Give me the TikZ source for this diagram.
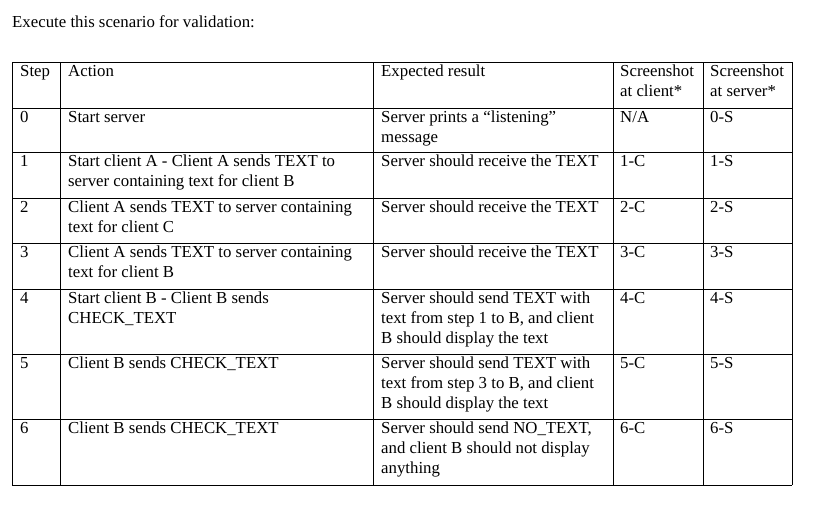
\documentclass[tikz,border=0pt]{standalone}
\usepackage{fontspec}
\setmainfont{Liberation Serif}
\begin{document}
\begin{tikzpicture}[x=1pt,y=-1pt,
  cell/.style={anchor=north west,inner sep=0pt,align=left,font=\fontsize{16.8}{20}\selectfont},
  grid/.style={draw=black,line width=0.7pt}]
\useasboundingbox (0,0) rectangle (821,507);
\node[cell,anchor=west] (title) at (12,22) {Execute this scenario for validation:};
\foreach \x in {12,60,373,613,703,792} \draw[grid] (\x,62) -- (\x,485);
\foreach \y in {62,108,152,198,243,289,354,419,485} \draw[grid] (12,\y) -- (792,\y);
% header
\node[cell] (h1) at (20,65) {Step};
\node[cell] (h2) at (68,65) {Action};
\node[cell] (h3) at (381,65) {Expected result};
\node[cell] (h4) at (620,65) {Screenshot\\at client*};
\node[cell] (h5) at (710,65) {Screenshot\\at server*};
% rows
\foreach \n/\y/\a/\b/\c/\d in {
 0/111/{Start server}/{Server prints a “listening”\\message}/{N/A}/{0-S},
 1/155/{Start client A - Client A sends TEXT to\\server containing text for client B}/{Server should receive the TEXT}/{1-C}/{1-S},
 2/201/{Client A sends TEXT to server containing\\text for client C}/{Server should receive the TEXT}/{2-C}/{2-S},
 3/246/{Client A sends TEXT to server containing\\text for client B}/{Server should receive the TEXT}/{3-C}/{3-S},
 4/292/{Start client B - Client B sends\\CHECK\_TEXT}/{Server should send TEXT with\\text from step 1 to B, and client\\B should display the text}/{4-C}/{4-S},
 5/357/{Client B sends CHECK\_TEXT}/{Server should send TEXT with\\text from step 3 to B, and client\\B should display the text}/{5-C}/{5-S},
 6/422/{Client B sends CHECK\_TEXT}/{Server should send NO\_TEXT,\\and client B should not display\\anything}/{6-C}/{6-S}} {
  \node[cell] (s\n) at (20,\y) {\n};
  \node[cell] (a\n) at (68,\y) {\a};
  \node[cell] (e\n) at (381,\y) {\b};
  \node[cell] (c\n) at (620,\y) {\c};
  \node[cell] (v\n) at (710,\y) {\d};
}
\end{tikzpicture}
\end{document}
